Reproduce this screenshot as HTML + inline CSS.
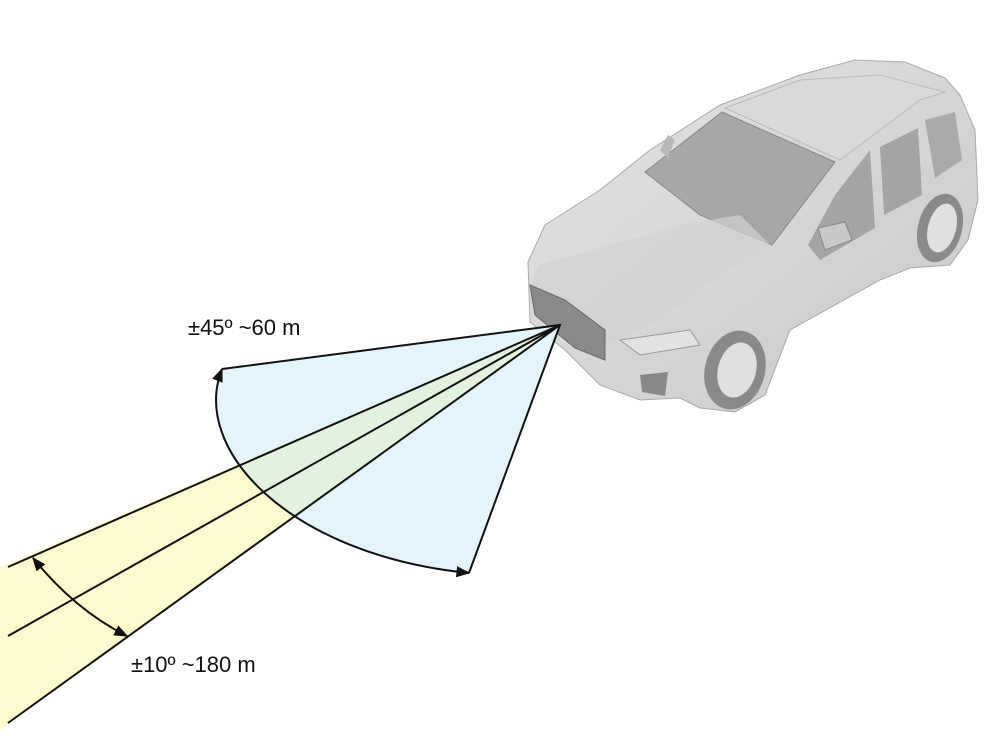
<!DOCTYPE html>
<html><head><meta charset="utf-8"><style>
html,body{margin:0;padding:0;background:#fff}
svg{display:block}
text{font-family:"Liberation Sans",sans-serif;font-size:22px;fill:#111}
</style></head><body>
<svg width="1000" height="749" viewBox="0 0 1000 749" xmlns="http://www.w3.org/2000/svg">
<defs>
<clipPath id="sec"><path d="M560,325 L222,369 C190,450 290,555 469,573 Z"/></clipPath>
<marker id="ah" viewBox="0 0 10 10" refX="9" refY="5" markerWidth="7" markerHeight="7" orient="auto-start-reverse"><path d="M0,1 L10,5 L0,9 Z" fill="#111"/></marker>
<linearGradient id="body" x1="0" y1="0" x2="1" y2="1"><stop offset="0" stop-color="#e4e4e4"/><stop offset="1" stop-color="#c8c8c8"/></linearGradient>
</defs>
<!-- car -->
<path d="M528,262 L545,225 L600,190 L650,150 L720,105 L800,75 L855,60 L905,62 L945,78 L960,95 L975,130 L978,200 L968,240 L950,265 L910,268 L880,280 L790,330 L765,395 L735,412 L700,408 L680,398 L640,400 L600,385 L565,350 L530,322 Z" fill="url(#body)" stroke="#aaa" stroke-width="1"/>
<path d="M645,172 L722,112 L835,162 L772,245 L700,215 Z" fill="#a8a8a8" stroke="#888"/>
<path d="M725,108 L800,80 L880,75 L945,92 L920,100 L840,160 Z" fill="#d9d9d9" stroke="#bbb"/>
<path d="M808,245 L835,195 L870,150 L875,228 L820,260 Z" fill="#a5a5a5"/>
<path d="M880,147 L918,128 L922,195 L884,215 Z" fill="#a5a5a5"/>
<path d="M925,120 L955,112 L962,160 L935,178 Z" fill="#aaa"/>
<path d="M660,150 L668,135 L675,140 L668,158 Z" fill="#b8b8b8"/>
<path d="M818,228 L845,222 L852,240 L825,250 Z" fill="#c9c9c9" stroke="#888"/>
<path d="M538,265 L600,248 L680,225 L740,215 L770,245 L720,275 L660,320 L605,345 L560,320 L530,290 Z" fill="#d2d2d2" opacity="0.7"/>
<path d="M530,285 L565,300 L605,330 L605,360 L575,348 L535,315 Z" fill="#8a8a8a" stroke="#666"/>
<path d="M620,340 L690,330 L700,345 L640,355 Z" fill="#e2e2e2" stroke="#999"/>
<path d="M640,375 L668,372 L665,396 L642,392 Z" fill="#888"/>
<ellipse cx="735" cy="370" rx="30" ry="40" fill="#8a8a8a" transform="rotate(15 735 370)"/>
<ellipse cx="737" cy="370" rx="19" ry="28" fill="#e0e0e0" transform="rotate(15 737 370)"/>
<ellipse cx="940" cy="228" rx="22" ry="35" fill="#8a8a8a" transform="rotate(15 940 228)"/>
<ellipse cx="942" cy="228" rx="14" ry="25" fill="#e0e0e0" transform="rotate(15 942 228)"/>
<!-- beams -->
<path d="M560,325 L0,567 L0,730 Z" fill="#fdfacd"/>
<path d="M560,325 L222,369 C190,450 290,555 469,573 Z" fill="#e3f4fb"/>
<path d="M560,325 L0,567 L0,730 Z" fill="#e2f2df" clip-path="url(#sec)"/>
<g stroke="#111" stroke-width="2" fill="none">
<path d="M222,369 L560,325 L469,573"/>
<path d="M222,369 C190,450 290,555 469,573" marker-start="url(#ah)" marker-end="url(#ah)"/>
<path d="M560,325 L8,567 M560,325 L8,636 M560,325 L8,723"/>
<path d="M33,558 Q75,610 127,636" marker-start="url(#ah)" marker-end="url(#ah)"/>
</g>
<text x="188" y="335">±45º ~60 m</text>
<text x="131" y="672">±10º ~180 m</text>
</svg>
</body></html>
